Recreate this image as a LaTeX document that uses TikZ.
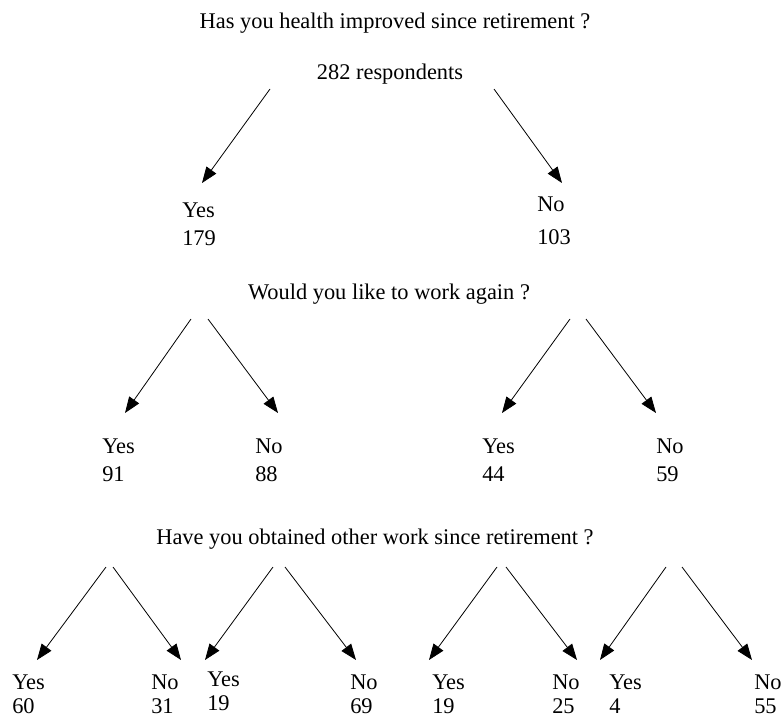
\documentclass[tikz,border=0pt]{standalone}
\usepackage{fontspec}
\setmainfont{Liberation Serif}
\usetikzlibrary{arrows.meta}
\begin{document}
\begin{tikzpicture}[x=0.75pt,y=-0.75pt,
  txt/.style={inner sep=0pt,font=\fontsize{16.8}{20}\selectfont},
  lbl/.style={txt,anchor=base west},
  ttl/.style={txt,anchor=base},
  arr/.style={line width=0.6pt,-{Triangle[length=12pt,width=9pt]}}]
\useasboundingbox (0,0) rectangle (783,717);
% ---- level 1
\node[ttl] (q1) at (395,29) {Has you health improved since retirement ?};
\node[ttl] (root) at (390,80) {282 respondents};
\coordinate (a1s) at (270,89); \coordinate (a1e) at (202,183);
\coordinate (a2s) at (494,89); \coordinate (a2e) at (562,183);
\draw[arr] (a1s) -- (a1e);
\draw[arr] (a2s) -- (a2e);
\node[lbl] (y1) at (182,218) {Yes};
\node[lbl] (y1n) at (182,245) {179};
\node[lbl] (n1) at (537,212) {No};
\node[lbl] (n1n) at (537,244) {103};
% ---- level 2
\node[ttl] (q2) at (389,299) {Would you like to work again ?};
\coordinate (b1s) at (191,319); \coordinate (b1e) at (125,413);
\coordinate (b2s) at (208,319); \coordinate (b2e) at (278,413);
\coordinate (b3s) at (570,319); \coordinate (b3e) at (502,413);
\coordinate (b4s) at (586,319); \coordinate (b4e) at (656,413);
\foreach \i in {1,2,3,4} {\draw[arr] (b\i s) -- (b\i e);}
\node[lbl] (y2) at (102,453) {Yes};
\node[lbl] (y2n) at (102,481) {91};
\node[lbl] (n2) at (255,453) {No};
\node[lbl] (n2n) at (255,481) {88};
\node[lbl] (y3) at (482,453) {Yes};
\node[lbl] (y3n) at (482,481) {44};
\node[lbl] (n3) at (656,453) {No};
\node[lbl] (n3n) at (656,481) {59};
% ---- level 3
\node[ttl] (q3) at (375,544) {Have you obtained other work since retirement ?};
\coordinate (c1s) at (106,567); \coordinate (c1e) at (37,660);
\coordinate (c2s) at (113,567); \coordinate (c2e) at (181,660);
\coordinate (c3s) at (273,567); \coordinate (c3e) at (205,660);
\coordinate (c4s) at (285,567); \coordinate (c4e) at (356,660);
\coordinate (c5s) at (497,567); \coordinate (c5e) at (429,660);
\coordinate (c6s) at (506,567); \coordinate (c6e) at (577,660);
\coordinate (c7s) at (666,567); \coordinate (c7e) at (600,660);
\coordinate (c8s) at (682,567); \coordinate (c8e) at (752,660);
\foreach \i in {1,...,8} {\draw[arr] (c\i s) -- (c\i e);}
\node[lbl] (y4) at (12,689) {Yes};
\node[lbl] (y4n) at (12,713) {60};
\node[lbl] (n4) at (151,689) {No};
\node[lbl] (n4n) at (151,713) {31};
\node[lbl] (y5) at (207,686) {Yes};
\node[lbl] (y5n) at (207,710) {19};
\node[lbl] (n5) at (350,689) {No};
\node[lbl] (n5n) at (350,713) {69};
\node[lbl] (y6) at (432,689) {Yes};
\node[lbl] (y6n) at (432,713) {19};
\node[lbl] (n6) at (552,689) {No};
\node[lbl] (n6n) at (552,713) {25};
\node[lbl] (y7) at (609,689) {Yes};
\node[lbl] (y7n) at (609,713) {4};
\node[lbl] (n7) at (754,689) {No};
\node[lbl] (n7n) at (754,713) {55};
\end{tikzpicture}
\end{document}
